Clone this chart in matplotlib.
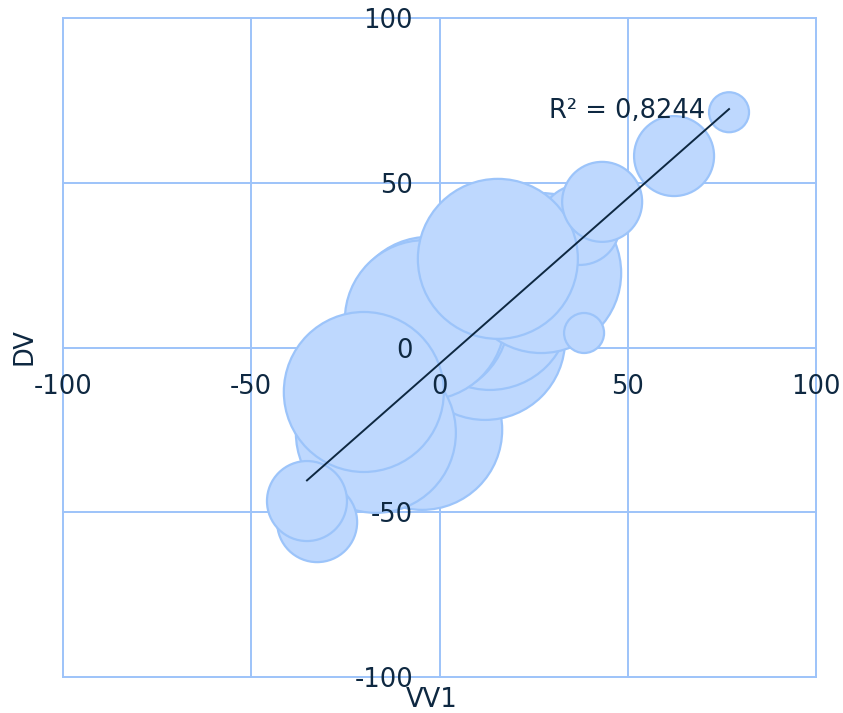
#!/usr/bin/env python3
import matplotlib

matplotlib.use("Agg")
import matplotlib.pyplot as plt
import numpy as np

# bubbles, listed in drawing order (first one is at the back)
VV1 = [-4.6, 12.1, 13.4, -2.8, -3.9, -16.9, -20.1, 27.0, 37.3, 15.5, 43.2, 38.4, -32.5, -35.2, 62.3, 76.9]
DV = [-25.0, 2.3, 11.4, 9.3, 8.3, -25.9, -13.5, 22.6, 37.2, 26.9, 44.2, 4.4, -53.0, -46.6, 58.1, 71.4]
BUBBLE = [16, 16, 16, 16, 16, 16, 16, 16, 4, 16, 4, 1, 4, 4, 4, 1]

TICKS = [-100, -50, 0, 50, 100]
TICK_LABELS = ["-100", "-50", "0", "50", "100"]
R2_LABEL = "R² = 0,8244"

FILL = "#bed8fe"
EDGE = "#9cc4fa"
GRID = "#9dc3f9"
TEXT = "#0e2841"

W, H = 843, 713
fig = plt.figure(figsize=(W / 100, H / 100), dpi=100)
pos = [63 / W, 1 - 677 / H, (816 - 63) / W, (677 - 18) / H]

ax = fig.add_axes(pos)
ax.set_xlim(-100, 100)
ax.set_ylim(-100, 100)
ax.set_xticks(TICKS)
ax.set_yticks(TICKS)
ax.tick_params(length=0, labelbottom=False, labelleft=False)
ax.grid(True, color=GRID, linewidth=1.4)
ax.set_axisbelow(True)
for gl in ax.get_xgridlines() + ax.get_ygridlines():
    gl.set_clip_on(False)
for sp in ax.spines.values():
    sp.set_visible(False)

# bubble area scales with size value; size 1 -> 20 px radius
unit = (2 * 20 * 72 / 100) ** 2
ax.scatter(VV1, DV, s=np.array(BUBBLE) * unit, facecolor=FILL, edgecolor=EDGE,
           linewidth=1.6, zorder=2)

# linear trendline over the data range
x = np.array(VV1)
y = np.array(DV)
slope, icpt = np.polyfit(x, y, 1)
xs = np.array([x.min(), x.max()])
ax.plot(xs, slope * xs + icpt, color=TEXT, linewidth=1.4, zorder=3)
ax.annotate(R2_LABEL, (xs[1], slope * xs[1] + icpt), xytext=(-17, -1.5),
            textcoords="offset points", ha="right", va="center",
            fontsize=18.5, color=TEXT, zorder=4)

# overlay axes only for the tick labels, so they sit above the bubbles
lab = fig.add_axes(pos, sharex=ax, sharey=ax)
lab.patch.set_visible(False)
lab.set_xticks(TICKS, TICK_LABELS)
lab.set_yticks(TICKS, TICK_LABELS)
lab.spines["left"].set_position(("data", 0))
lab.spines["bottom"].set_position(("data", 0))
for sp in lab.spines.values():
    sp.set_visible(False)
lab.tick_params(length=0, labelsize=18.5, labelcolor=TEXT)
lab.tick_params(axis="x", pad=19)
lab.tick_params(axis="y", pad=19)

fig.text(25 / W, 1 - 347 / H, "DV", rotation=90, ha="center", va="center",
         fontsize=18.5, color=TEXT)
fig.text(432 / W, 1 - 700 / H, "VV1", ha="center", va="center",
         fontsize=18.5, color=TEXT)

fig.savefig("out.png", dpi=100)
